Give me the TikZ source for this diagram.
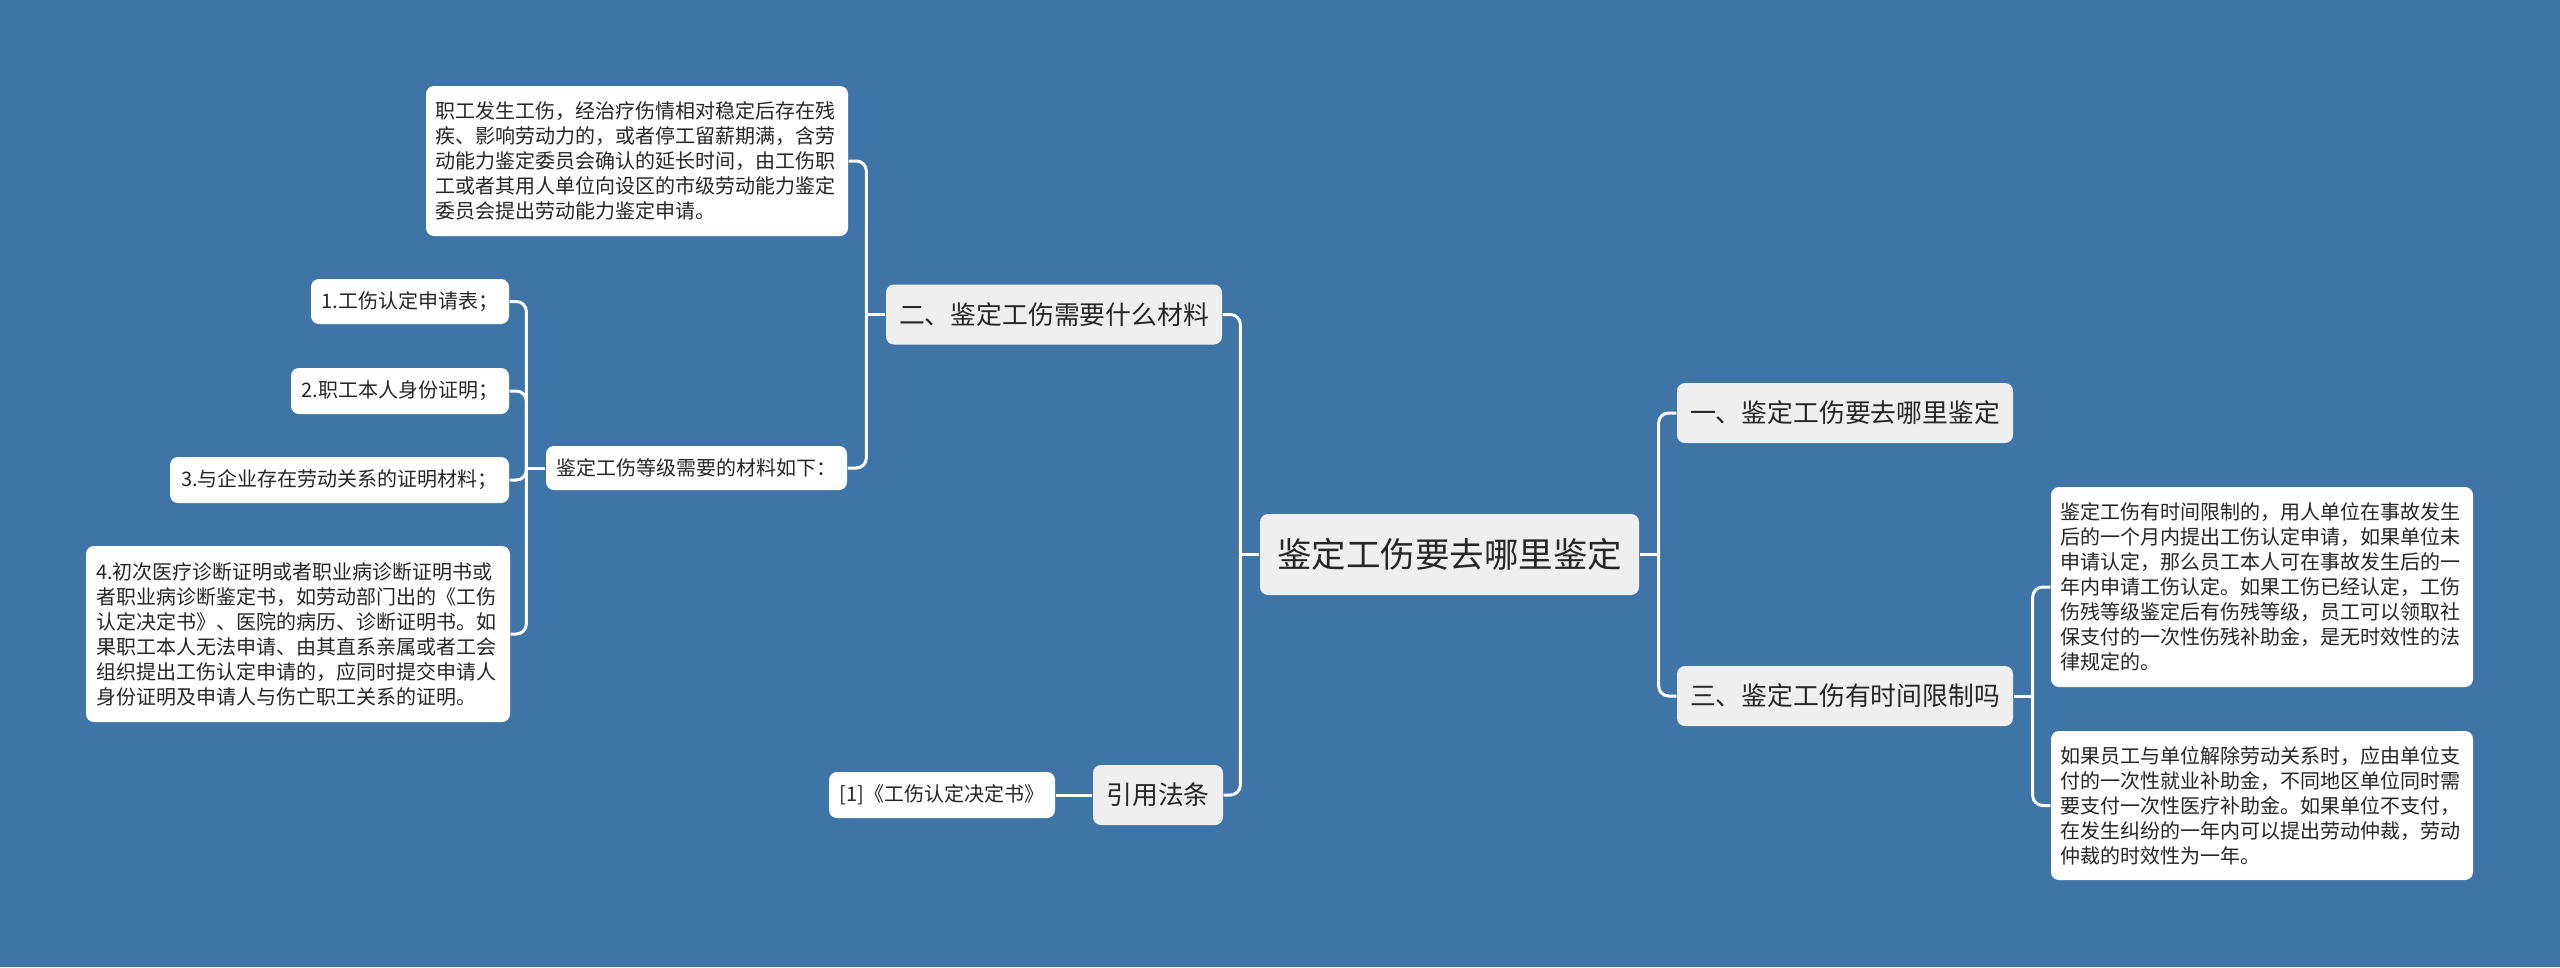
\documentclass[tikz,border=0pt]{standalone}
\usepackage{fontspec}
\setmainfont{Noto Sans CJK SC}
\definecolor{bg}{RGB}{62,116,166}
\definecolor{hub}{RGB}{239,239,239}
\definecolor{txt}{RGB}{38,38,38}
\begin{document}
\begin{tikzpicture}[x=0.3pt,y=-0.3pt,
  box/.style={rounded corners=2.4pt, text=txt, inner sep=0pt, anchor=center},
  rootbox/.style={box, fill=hub, minimum width=113.7pt, minimum height=24.3pt, font=\fontsize{10.35pt}{12pt}\selectfont},
  mainbox/.style={box, fill=hub, minimum height=18pt, font=\fontsize{7.75pt}{9pt}\selectfont},
  leaf/.style={box, fill=white, font=\fontsize{6pt}{7.5pt}\selectfont},
  para/.style={leaf, text width=121pt, align=left, inner xsep=2.8pt},
  conn/.style={draw=white, line width=0.9pt, rounded corners=3pt}]
\fill[bg] (0,0) rectangle (2560,967);
\useasboundingbox (0,0) rectangle (2560,967);

% root and main branches
\node[rootbox] (root) at (1449.5,554.5) {鉴定工伤要去哪里鉴定};
\node[mainbox, minimum width=100.8pt] (n1) at (1845,413) {一、鉴定工伤要去哪里鉴定};
\node[mainbox, minimum width=100.8pt] (n3) at (1845,696) {三、鉴定工伤有时间限制吗};
\node[mainbox, minimum width=100.8pt] (n2) at (1054,314.5) {二、鉴定工伤需要什么材料};
\node[mainbox, minimum width=39pt] (ref) at (1158,795) {引用法条};

% leaves
\node[leaf, minimum width=67.8pt, minimum height=13.8pt] (cite) at (942,795) {[1]《工伤认定决定书》};
\node[para, minimum height=45pt] (tl) at (637,161) {职工发生工伤，经治疗伤情相对稳定后存在残\\疾、影响劳动力的，或者停工留薪期满，含劳\\动能力鉴定委员会确认的延长时间，由工伤职\\工或者其用人单位向设区的市级劳动能力鉴定\\委员会提出劳动能力鉴定申请。};
\node[leaf, minimum width=90.3pt, minimum height=13.2pt] (mat) at (696.5,468) {鉴定工伤等级需要的材料如下：};
\node[leaf, minimum width=59.4pt, minimum height=13.5pt] (b1) at (410,301.5) {1.工伤认定申请表；};
\node[leaf, minimum width=65.4pt, minimum height=13.8pt] (b2) at (400,391) {2.职工本人身份证明；};
\node[leaf, minimum width=101.7pt, minimum height=13.8pt] (b3) at (339.5,480) {3.与企业存在劳动关系的证明材料；};
\node[para, inner xsep=3.1pt, minimum height=52.8pt] (b4) at (298,634) {4.初次医疗诊断证明或者职业病诊断证明书或\\者职业病诊断鉴定书，如劳动部门出的《工伤\\认定决定书》、医院的病历、诊断证明书。如\\果职工本人无法申请、由其直系亲属或者工会\\组织提出工伤认定申请的，应同时提交申请人\\身份证明及申请人与伤亡职工关系的证明。};
\node[para, minimum height=60pt] (r1) at (2262,587) {鉴定工伤有时间限制的，用人单位在事故发生\\后的一个月内提出工伤认定申请，如果单位未\\申请认定，那么员工本人可在事故发生后的一\\年内申请工伤认定。如果工伤已经认定，工伤\\伤残等级鉴定后有伤残等级，员工可以领取社\\保支付的一次性伤残补助金，是无时效性的法\\律规定的。};
\node[para, minimum height=44.7pt] (r2) at (2262,805.5) {如果员工与单位解除劳动关系时，应由单位支\\付的一次性就业补助金，不同地区单位同时需\\要支付一次性医疗补助金。如果单位不支付，\\在发生纠纷的一年内可以提出劳动仲裁，劳动\\仲裁的时效性为一年。};

% junctions
\coordinate (tL) at ([xshift=-5.7pt]root.west);
\coordinate (tR) at ([xshift=5.7pt]root.east);
\coordinate (t3) at ([xshift=5.7pt]n3.east);
\coordinate (t2) at ([xshift=-5.7pt]n2.west);
\coordinate (tM) at ([xshift=-5.7pt]mat.west);

% connectors
\draw[conn] (n2.east) -| (tL);
\draw[conn] (ref.east) -| (tL);
\draw[conn] (tL) -- (root.west);
\draw[conn] (n1.west) -| (tR);
\draw[conn] (n3.west) -| (tR);
\draw[conn] (tR) -- (root.east);
\draw[conn] (r1.west) -| (t3);
\draw[conn] (r2.west) -| (t3);
\draw[conn] (t3) -- (n3.east);
\draw[conn] (tl.east) -| (t2);
\draw[conn] (mat.east) -| (t2);
\draw[conn] (t2) -- (n2.west);
\draw[conn] (b1.east) -| (tM);
\draw[conn] (b2.east) -| (tM);
\draw[conn] (b3.east) -| (tM);
\draw[conn] (b4.east) -| (tM);
\draw[conn] (tM) -- (mat.west);
\draw[conn] (cite.east) -- (ref.west);
\end{tikzpicture}
\end{document}
